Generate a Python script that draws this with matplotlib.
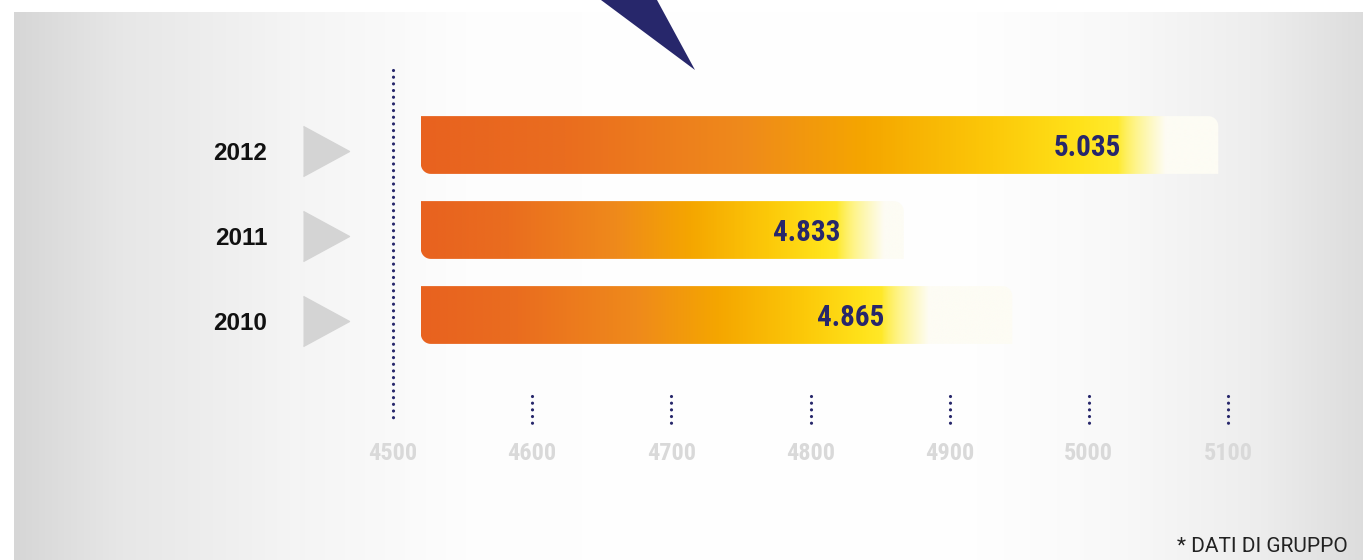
"""
Dipendenti 2010-2012 (dati di gruppo) - barre orizzontali con sfumatura
salva out.png (1363x560)
"""

import numpy as np
import matplotlib
matplotlib.use('Agg')
import matplotlib.pyplot as plt
from matplotlib import font_manager
from matplotlib.colors import LinearSegmentedColormap, to_rgb
from matplotlib.path import Path
from matplotlib.patches import PathPatch, Polygon
from matplotlib.transforms import blended_transform_factory

# ── dati ─────────────────────────────────────────────────
YEARS = ['2010', '2011', '2012']
VALUES = [4865, 4833, 5035]
VALUE_LABELS = ['4.865', '4.833', '5.035']
FADE_END = [4945, 4867, 5093]          # fine della traccia chiara dietro la barra
TICKS = [4500, 4600, 4700, 4800, 4900, 5000, 5100]
BAR_START = 4520
FOOTNOTE = '* DATI DI GRUPPO'

# ── stile ────────────────────────────────────────────────
NAVY = '#27276B'
TICK_GREY = '#D9D9D9'
ARROW_GREY = '#D4D4D4'
TRACK = '#FDFCF4'
BAR_CMAP = LinearSegmentedColormap.from_list('bar', [
    (0.00, '#E8621F'),
    (0.20, '#EA6D1F'),
    (0.45, '#EF8A1B'),
    (0.62, '#F5A600'),
    (0.80, '#FCC909'),
    (0.92, '#FFE21A'),
    (1.00, '#FFEE36'),
])

_installed = {f.name for f in font_manager.fontManager.ttflist}


def pick(cands):
    for c in cands:
        if c in _installed:
            return c
    return 'DejaVu Sans'


NARROW = pick(['Liberation Sans Narrow', 'Roboto Condensed', 'DejaVu Sans Condensed'])
BOLD = pick(['Liberation Sans', 'Arial', 'DejaVu Sans'])
PLAIN = pick(['Roboto', 'Open Sans', 'DejaVu Sans'])

W, H = 1363, 560
PX_PER_UNIT = (1228 - 393) / 600.0
XMIN = 4500 - 393 / PX_PER_UNIT
XMAX = XMIN + W / PX_PER_UNIT
ROW_PX = 85.0
Y0_PX = 315.0
YMIN = (Y0_PX - H) / ROW_PX
YMAX = Y0_PX / ROW_PX
BAR_H = 0.68


def py(p):
    """pixel verticale -> coordinata y"""
    return (Y0_PX - p) / ROW_PX


def bar_path(x0, x1, y0, y1, rx, ry, n=12):
    # angolo in basso a sinistra e in alto a destra arrotondati
    verts = [(x0, y1), (x1 - rx, y1)]
    for a in np.linspace(np.pi / 2, 0, n):
        verts.append((x1 - rx + rx * np.cos(a), y1 - ry + ry * np.sin(a)))
    verts.append((x1, y0))
    verts.append((x0 + rx, y0))
    for a in np.linspace(3 * np.pi / 2, np.pi, n):
        verts.append((x0 + rx + rx * np.cos(a), y0 + ry + ry * np.sin(a)))
    verts.append((x0, y1))
    codes = [Path.MOVETO] + [Path.LINETO] * (len(verts) - 2) + [Path.CLOSEPOLY]
    return Path(verts, codes)


def main():
    fig = plt.figure(figsize=(W / 100, H / 100), dpi=100)
    fig.patch.set_facecolor('white')

    # ── pannello grigio sfumato ──
    bg = fig.add_axes([14 / W, 0, 1 - 14 / W, 1 - 12 / H])
    xs = np.arange(14, W)
    g = np.interp(xs, [14, 120, 300, 480, 950, 1120, 1260, W],
                  [0.84, 0.905, 0.96, 0.995, 1.0, 0.975, 0.93, 0.865])
    bg.imshow(np.dstack([g, g, g]).repeat(2, axis=0), aspect='auto',
              extent=[0, 1, 0, 1], interpolation='bilinear')
    bg.set_axis_off()

    # ── triangolo blu in alto ──
    fig.patches.append(Polygon([(601 / W, 1.0), (657 / W, 1.0), (695 / W, 1 - 70 / H)],
                               closed=True, facecolor=NAVY, edgecolor='none',
                               transform=fig.transFigure, figure=fig))

    ax = fig.add_axes([0, 0, 1, 1])
    ax.patch.set_alpha(0)
    ax.set_axis_off()

    rx = 10 / PX_PER_UNIT
    ry = 10 / ROW_PX
    cream = np.array(to_rgb(TRACK))
    for i, (val, end) in enumerate(zip(VALUES, FADE_END)):
        y0, y1 = i - BAR_H / 2, i + BAR_H / 2
        patch = PathPatch(bar_path(BAR_START, end, y0, y1, rx, ry),
                          facecolor='none', edgecolor='none', transform=ax.transData)
        ax.add_patch(patch)
        gx = np.linspace(BAR_START, end, 800)
        t = np.clip((gx - BAR_START) / (val - BAR_START), 0, 1)
        col = BAR_CMAP(t)[:, :3]
        f = np.clip((gx - (val - 14)) / 34.0, 0, 1)
        f = f ** 0.8
        col = col * (1 - f[:, None]) + cream * f[:, None]
        im = ax.imshow(col[None, :, :].repeat(2, axis=0), aspect='auto',
                       extent=[BAR_START, end, y0, y1], interpolation='bilinear', zorder=2)
        im.set_clip_path(patch)

        ax.text(val - 36, i - 0.04, VALUE_LABELS[i], ha='center', va='center',
                fontsize=21, fontweight='bold', color=NAVY, family=NARROW, zorder=3)

    # ── etichette anni e frecce grigie ──
    tr = blended_transform_factory(ax.transAxes, ax.transData)
    tri = [(-0.46, -0.5), (0.46, 0.0), (-0.46, 0.5)]
    for i, yr in enumerate(YEARS):
        ax.text(267 / W, i - 0.1, yr, transform=tr, ha='right', va='center',
                fontsize=17.5, fontweight='bold', color='#111111', family=BOLD)
        ax.plot([326 / W], [i - 0.07], transform=tr, marker=tri, markersize=36,
                color=ARROW_GREY, linestyle='none')

    # ── asse puntinato ──
    dot = dict(color=NAVY, linewidth=2.3, linestyle=(0, (0.01, 2.08)),
               dash_capstyle='round')
    ax.plot([TICKS[0], TICKS[0]], [py(70), py(422)], **dot)
    for t in TICKS[1:]:
        ax.plot([t, t], [py(396), py(424)], **dot)
    for t in TICKS:
        ax.text(t, py(453), str(t), ha='center', va='center', fontsize=17.5,
                fontweight='bold', color=TICK_GREY, family=NARROW)

    fig.text(1348 / W, 1 - 546 / H, FOOTNOTE, ha='right', va='center',
             fontsize=15, color='#222222', family=PLAIN)

    ax.set_xlim(XMIN, XMAX)
    ax.set_ylim(YMIN, YMAX)

    fig.savefig('out.png', dpi=100)
    print('fonts:', NARROW, BOLD, PLAIN)


if __name__ == '__main__':
    main()
